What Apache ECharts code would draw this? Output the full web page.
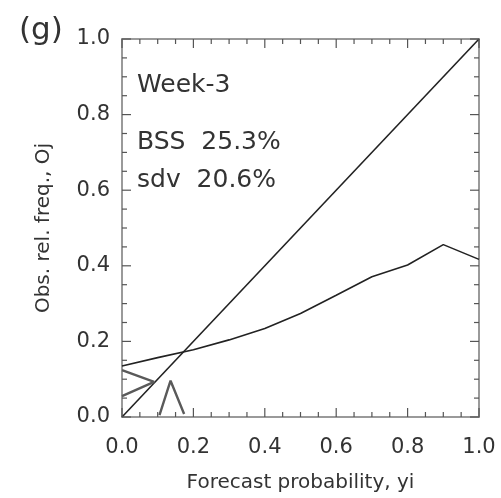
<!DOCTYPE html>
<html><head><meta charset="utf-8">
<script src="https://cdn.jsdelivr.net/npm/echarts@6/dist/echarts.min.js"></script>
<style>html,body{margin:0;padding:0;background:#fff}#c{width:501px;height:498px}</style>
</head><body><div id="c"></div>
<script>
// Reliability curve (forecast probability yi, observed relative frequency Oj)
const forecastProb = [0.0, 0.1, 0.2, 0.3, 0.4, 0.5, 0.6, 0.7, 0.8, 0.9, 1.0];
const obsFreq      = [0.135, 0.157, 0.178, 0.204, 0.234, 0.274, 0.322, 0.371, 0.402, 0.456, 0.417];
// Perfect reliability diagonal
const diagX = [0.0, 1.0];
const diagY = [0.0, 1.0];
// Small grey marks near the origin
const vMarkX = [0.0, 0.09, 0.0];
const vMarkY = [0.124, 0.093, 0.055];
const lambdaX = [0.105, 0.136, 0.174];
const lambdaY = [0.005, 0.096, 0.008];
// Tick positions (major every 0.2, minor every 0.05) shared by both axes
const majorTicks = [0.0, 0.2, 0.4, 0.6, 0.8, 1.0];
const minorTicks = [0.05, 0.1, 0.15, 0.25, 0.3, 0.35, 0.45, 0.5, 0.55,
                    0.65, 0.7, 0.75, 0.85, 0.9, 0.95];
// Annotation text
const panelLabel = '(g)';
const infoLines = ['Week-3', 'BSS  25.3%', 'sdv  20.6%'];
const xName = 'Forecast probability, yi';
const yName = 'Obs. rel. freq., Oj';

const zip = (a, b) => a.map((v, i) => [v, b[i]]);
const FONT = 'DejaVu Sans';

function makeAxis(pos, withLabels, extra) {
  return Object.assign({
    type: 'value', min: 0, max: 1, interval: 0.2, position: pos,
    axisLine: {show: true, onZero: false, lineStyle: {color: '#9a9a9a', width: 2}},
    axisTick: {show: false},
    minorTick: {show: false},
    splitLine: {show: false},
    axisLabel: {show: withLabels, fontFamily: FONT, fontSize: 21, color: '#333',
                formatter: v => v.toFixed(1)}
  }, extra || {});
}

// Inward tick marks on all four frame sides, placed through the axes' scales
const tickData = majorTicks.map(v => [v, 1]).concat(minorTicks.map(v => [v, 0]));
function renderTick(params, api) {
  const v = api.value(0);
  const len = api.value(1) ? 9 : 5;
  const b = api.coord([v, 0]), t = api.coord([v, 1]);
  const l = api.coord([0, v]), r = api.coord([1, v]);
  const st = {stroke: '#555', lineWidth: 1.2};
  return {type: 'group', children: [
    {type: 'line', shape: {x1: b[0], y1: b[1], x2: b[0], y2: b[1] - len}, style: st},
    {type: 'line', shape: {x1: t[0], y1: t[1], x2: t[0], y2: t[1] + len}, style: st},
    {type: 'line', shape: {x1: l[0], y1: l[1], x2: l[0] + len, y2: l[1]}, style: st},
    {type: 'line', shape: {x1: r[0], y1: r[1], x2: r[0] - len, y2: r[1]}, style: st}
  ]};
}

const chart = echarts.init(document.getElementById('c'));
chart.setOption({
  animation: false,
  grid: {left: 122, right: 22, top: 39, bottom: 81},
  xAxis: [
    makeAxis('bottom', true, {
      axisLabel: {show: true, margin: 20, fontFamily: FONT, fontSize: 21, color: '#333',
                  formatter: v => v.toFixed(1)},
      name: xName, nameLocation: 'middle', nameGap: 56,
      nameTextStyle: {fontFamily: FONT, fontSize: 20, color: '#333'}}),
    makeAxis('top', false)
  ],
  yAxis: [
    makeAxis('left', true, {
      axisLabel: {show: true, margin: 12, fontFamily: FONT, fontSize: 21, color: '#333',
                  formatter: v => v.toFixed(1)},
      name: yName, nameLocation: 'middle', nameGap: 68,
      nameTextStyle: {fontFamily: FONT, fontSize: 20, color: '#333'}}),
    makeAxis('right', false)
  ],
  series: [
    {type: 'custom', xAxisIndex: 0, yAxisIndex: 0, data: tickData, renderItem: renderTick,
     clip: false, silent: true, z: 5, encode: {x: 0}},
    {type: 'line', data: zip(diagX, diagY), symbol: 'none',
     lineStyle: {color: '#222', width: 1.6}},
    {type: 'line', data: zip(forecastProb, obsFreq), symbol: 'none',
     lineStyle: {color: '#222', width: 1.6}},
    {type: 'line', data: zip(vMarkX, vMarkY), symbol: 'none',
     lineStyle: {color: '#5a5a5a', width: 2.4}},
    {type: 'line', data: zip(lambdaX, lambdaY), symbol: 'none',
     lineStyle: {color: '#5a5a5a', width: 2.4}}
  ],
  graphic: [
    {type: 'text', left: 19, top: 15,
     style: {text: panelLabel, fontFamily: FONT, fontSize: 31, fill: '#333'}},
    {type: 'text', left: 137, top: 73,
     style: {text: infoLines[0], fontFamily: FONT, fontSize: 25, fill: '#333'}},
    {type: 'text', left: 137, top: 130,
     style: {text: infoLines[1], fontFamily: FONT, fontSize: 25, fill: '#333'}},
    {type: 'text', left: 137, top: 168,
     style: {text: infoLines[2], fontFamily: FONT, fontSize: 25, fill: '#333'}}
  ]
});
</script></body></html>
